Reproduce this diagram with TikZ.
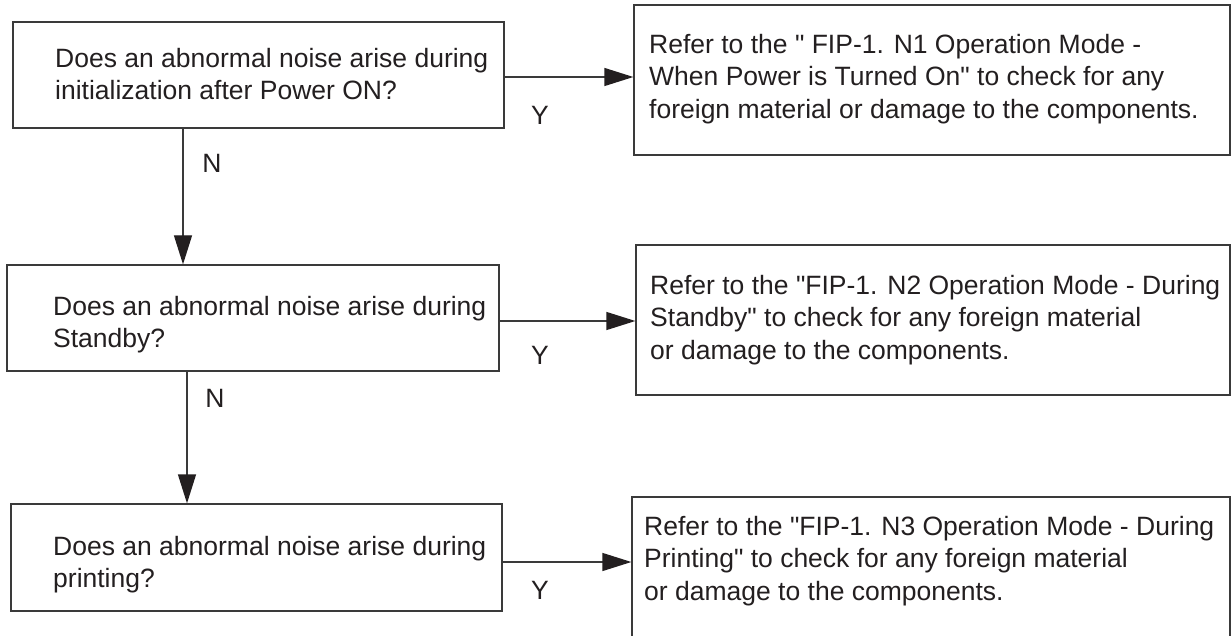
\documentclass[tikz,border=0pt]{standalone}
\usepackage{fontspec}
\setmainfont{Liberation Sans}[Ligatures=TeXOff]
\usetikzlibrary{arrows.meta}
\definecolor{linec}{HTML}{3A3A3A}
\definecolor{textc}{HTML}{231F20}
\tikzset{
  boxq/.style={draw=linec, line width=1.3pt, rectangle, inner sep=0pt},
  txt/.style={anchor=north west, inner sep=0pt, align=left, text=textc,
              font=\fontsize{26.5}{32.5}\selectfont},
  lbl/.style={inner sep=0pt, text=textc, font=\fontsize{26.5}{32}\selectfont},
  arr/.style={draw=linec, line width=1.3pt, -{Triangle[length=29pt,width=18pt,fill=textc,color=textc]}}
}
\begin{document}
\begin{tikzpicture}[x=1pt,y=-1pt]
\clip (0,0) rectangle (1231,636);
\fill[white] (0,0) rectangle (1231,636);
% question boxes
\node[boxq, minimum width=491pt, minimum height=106pt] (b1) at (258.5,75) {};
\node[boxq, minimum width=492pt, minimum height=106pt] (b2) at (253,318) {};
\node[boxq, minimum width=491pt, minimum height=107pt] (b3) at (256.5,557.5) {};
% result boxes
\node[boxq, minimum width=596pt, minimum height=150pt] (r1) at (932,80) {};
\node[boxq, minimum width=594pt, minimum height=150pt] (r2) at (933,320) {};
\node[boxq, minimum width=598pt, minimum height=153pt] (r3) at (931,573.5) {};
% texts
\node[txt] (t1) at (55,67-19) {Does an abnormal noise arise during\\initialization after Power ON?};
\node[txt] (t2) at (53,315-19) {Does an abnormal noise arise during\\Standby?};
\node[txt] (t3) at (53,555-19) {Does an abnormal noise arise during\\printing?};
\node[txt] (u1) at (649,53-19) {Refer to the " FIP-1. N1 Operation Mode -\\When Power is Turned On" to check for any\\foreign material or damage to the components.};
\node[txt] (u2) at (650,294-19) {Refer to the "FIP-1. N2 Operation Mode - During\\Standby" to check for any foreign material\\or damage to the components.};
\node[txt] (u3) at (644,535-19) {Refer to the "FIP-1. N3 Operation Mode - During\\Printing" to check for any foreign material\\or damage to the components.};
% connectors
\coordinate (v1) at (183,0);
\coordinate (v2) at (187,0);
\coordinate (h1) at (0,77);
\coordinate (h2) at (0,321);
\coordinate (h3) at (0,562);
\draw[arr] (b1.east |- h1) -- (r1.west |- h1);
\draw[arr] (b2.east |- h2) -- (r2.west |- h2);
\draw[arr] (b3.east |- h3) -- (r3.west |- h3);
\draw[arr] (v1 |- b1.south) -- (v1 |- b2.north);
\draw[arr] (v2 |- b2.south) -- (v2 |- b3.north);
% labels
\node[lbl] (y1) at (540,115) {Y};
\node[lbl] (y2) at (540,355) {Y};
\node[lbl] (y3) at (540,590) {Y};
\node[lbl] (n1) at (212,163) {N};
\node[lbl] (n2) at (215,398) {N};
\end{tikzpicture}
\end{document}
